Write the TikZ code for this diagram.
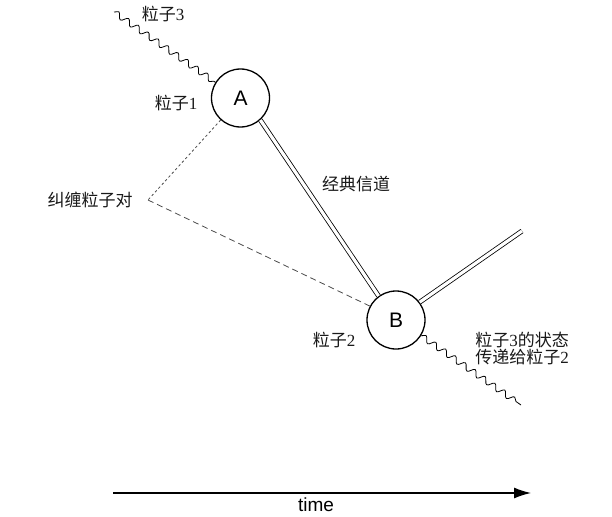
\documentclass[tikz,border=0pt]{standalone}
\usepackage{fontspec}
\setmainfont{Liberation Sans}
\newfontfamily\cjk{Noto Sans CJK SC}
\newfontfamily\digitfont{Liberation Serif}
\usetikzlibrary{decorations.pathmorphing,arrows.meta}
\begin{document}
\begin{tikzpicture}[x=1pt,y=-1pt,
  particle/.style={circle,draw,line width=1.3pt,minimum size=58pt,inner sep=0pt,font=\fontsize{21}{21}\selectfont},
  lbl/.style={font=\cjk\fontsize{17}{17}\selectfont,inner sep=0pt,text=black!90},
  wave/.style={decorate,decoration={snake,segment length=12pt,amplitude=3pt},line width=0.8pt},
  chan/.style={double,double distance=3.2pt,line width=0.8pt},
  entA/.style={line width=0.8pt,dash pattern=on 2.5pt off 2.5pt,black!70},
  entB/.style={line width=0.8pt,dash pattern=on 6pt off 4pt,black!70},
  timeaxis/.style={line width=1.4pt,-{Latex[length=17pt,width=11pt]}}]
\useasboundingbox[fill=white] (0,0) rectangle (612,516);

\node[particle] (A) at (240.5,98) {A};
\node[particle] (B) at (396,320) {B};

\coordinate (w3) at (114,12);
\coordinate (wout) at (521,405);
\coordinate (vtx) at (148,200);
\coordinate (chanout) at (522,231);
\coordinate (t0) at (113,493);
\coordinate (t1) at (531,493);

\draw[wave] (w3) -- (A.148);
\draw[wave] (B.-32) -- (wout);
\draw[chan] (A.-48) -- (B.126);
\draw[chan] (B.37) -- (chanout);
\draw[entA] (A.-132) -- (vtx);
\draw[entB] (vtx) -- (B.152);
\draw[timeaxis] (t0) -- (t1);

\node[lbl] (l3) at (163,14) {粒子{\digitfont 3}};
\node[lbl] (l1) at (176,103) {粒子{\digitfont 1}};
\node[lbl] (lpair) at (90,200) {纠缠粒子对};
\node[lbl] (lchan) at (356,184) {经典信道};
\node[lbl] (l2) at (334,340) {粒子{\digitfont 2}};
\node[lbl,align=left] (lstate) at (522,349) {粒子{\digitfont 3}的状态\\[0pt]传递给粒子{\digitfont 2}};
\node[font=\fontsize{19}{19}\selectfont,inner sep=0pt] (ltime) at (316,505) {time};
\end{tikzpicture}
\end{document}
